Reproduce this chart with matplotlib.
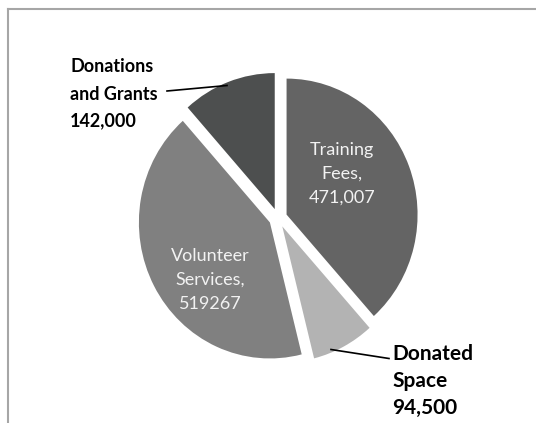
import matplotlib
matplotlib.use("Agg")
import matplotlib.pyplot as plt
from matplotlib.lines import Line2D

categories = ["Training Fees", "Donated Space", "Volunteer Services", "Donations and Grants"]
values = [471007, 94500, 519267, 142000]
value_labels = ["471,007", "94,500", "519267", "142,000"]
colors = ["#646464", "#b3b3b3", "#808080", "#4d4f4f"]

W, H = 536, 423
fig = plt.figure(figsize=(W / 100, H / 100), dpi=100)
ax = fig.add_axes([0, 0, 1, 1])

cx, cy, rx, ry = 278, 218, 131, 136
ax.pie(values, colors=colors, startangle=90, counterclock=False,
       explode=[0.07] * 4, radius=1, center=(0, 0),
       wedgeprops=dict(linewidth=0))
ax.set_aspect("auto")
ax.set_xlim((0 - cx) / rx, (W - cx) / rx)
ax.set_ylim((cy - H) / ry, (cy - 0) / ry)
ax.axis("off")


def px(x, y):
    return (x / W, 1 - y / H)


tf = fig.transFigure
font = "Lato"

# border
fig.add_artist(Line2D([px(8, 0)[0], px(8, 0)[0]], [px(0, 9)[1], px(0, 423)[1]],
                      transform=tf, color="#a6a6a6", lw=1.5))
fig.add_artist(Line2D([px(8, 0)[0], px(536, 0)[0]], [px(0, 9)[1], px(0, 9)[1]],
                      transform=tf, color="#a6a6a6", lw=1.5))

# inside labels
fig.text(*px(342, 174), "Training\nFees,\n" + value_labels[0], transform=tf,
         ha="center", va="center", color="#f2f2f2", fontsize=13,
         family=font, linespacing=1.62)
fig.text(*px(210, 280), "Volunteer\nServices,\n" + value_labels[2], transform=tf,
         ha="center", va="center", color="#f2f2f2", fontsize=13,
         family=font, linespacing=1.62)

# outside labels
fig.text(*px(70, 94), "Donations\nand Grants\n" + value_labels[3], transform=tf,
         ha="left", va="center", color="black", fontsize=13, fontweight="bold",
         family=font, linespacing=1.72)
fig.text(*px(392, 381), "Donated\nSpace\n" + value_labels[1], transform=tf,
         ha="left", va="center", color="black", fontsize=15, fontweight="bold",
         family=font, linespacing=1.42)

fig.add_artist(Line2D([px(167, 0)[0], px(227, 0)[0]], [px(0, 91)[1], px(0, 85.5)[1]],
                      transform=tf, color="black", lw=1.2))
fig.add_artist(Line2D([px(331, 0)[0], px(389, 0)[0]], [px(0, 349.5)[1], px(0, 358.5)[1]],
                      transform=tf, color="black", lw=1.2))

fig.savefig("out.png", dpi=100, facecolor="white")
